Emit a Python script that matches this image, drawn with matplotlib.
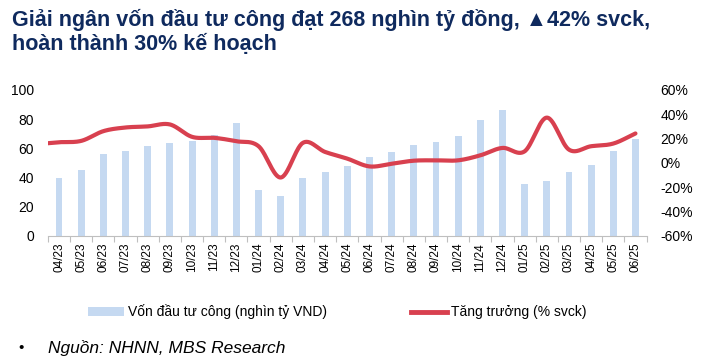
import numpy as np
import matplotlib
matplotlib.use("Agg")
import matplotlib.pyplot as plt
from matplotlib.patches import Patch
from matplotlib.lines import Line2D

plt.rcParams['font.family'] = ['Liberation Sans', 'DejaVu Sans']

categories = ["04/23", "05/23", "06/23", "07/23", "08/23", "09/23", "10/23", "11/23", "12/23",
              "01/24", "02/24", "03/24", "04/24", "05/24", "06/24", "07/24", "08/24", "09/24",
              "10/24", "11/24", "12/24", "01/25", "02/25", "03/25", "04/25", "05/25", "06/25"]
von_dau_tu = [39.5, 45, 56, 58.3, 61.3, 63.6, 65, 69, 77.3,
              31.1, 27, 39.8, 43.9, 48, 53.8, 57.7, 62, 64.5,
              68.4, 79.2, 86.3, 35.5, 37.8, 43.9, 48.5, 58.3, 66.6]
tang_truong = [17, 18.1, 26.1, 29.1, 30, 31.6, 21.4, 20.6, 17.8,
               13.7, -12, 16.5, 9, 3.5, -2.9, -0.7, 1.8, 2.1,
               2.1, 6.2, 12.3, 9.5, 37.2, 10.9, 13.7, 15.9, 24.2]
left_ticks = [0, 20, 40, 60, 80, 100]
right_ticks = [-60, -40, -20, 0, 20, 40, 60]

title = "Giải ngân vốn đầu tư công đạt 268 nghìn tỷ đồng, ▲42% svck,\nhoàn thành 30% kế hoạch"
bar_label = "Vốn đầu tư công (nghìn tỷ VND)"
line_label = "Tăng trưởng (% svck)"
source = "Nguồn: NHNN, MBS Research"

BAR_C = "#C5D9F1"
LINE_C = "#D8404F"
NAVY = "#0F2A5E"


def catmull_rom(x, y, n=30, lead=0.5):
    x = np.asarray(x, float)
    y = np.asarray(y, float)
    px = np.concatenate([[2 * x[0] - x[1]], x, [2 * x[-1] - x[-2]]])
    py = np.concatenate([[2 * y[0] - y[1]], y, [2 * y[-1] - y[-2]]])
    xs, ys = [], []
    t = np.linspace(0, 1, n, endpoint=False)
    for i in range(1, len(px) - 2):
        p0, p1, p2, p3 = py[i - 1], py[i], py[i + 1], py[i + 2]
        q0, q1, q2, q3 = px[i - 1], px[i], px[i + 1], px[i + 2]
        f = lambda a0, a1, a2, a3: 0.5 * ((2 * a1) + (-a0 + a2) * t +
                                          (2 * a0 - 5 * a1 + 4 * a2 - a3) * t ** 2 +
                                          (-a0 + 3 * a1 - 3 * a2 + a3) * t ** 3)
        xs.append(f(q0, q1, q2, q3))
        ys.append(f(p0, p1, p2, p3))
    xs.append([x[-1]])
    ys.append([y[-1]])
    sx = np.concatenate(xs)
    sy = np.concatenate(ys)
    # short lead-in from the axis edge, following the initial slope
    slope = (y[1] - y[0]) / (x[1] - x[0])
    sx = np.concatenate([[x[0] - lead], sx])
    sy = np.concatenate([[y[0] - slope * lead * 1.5], sy])
    return sx, sy


fig = plt.figure(figsize=(7.16, 3.64), dpi=100)
ax = fig.add_axes([0.067, 0.352, 0.836, 0.401])
n = len(categories)
xpos = np.arange(n)
ax.bar(xpos, von_dau_tu, width=0.31, color=BAR_C, zorder=2)
ax.set_xlim(-0.5, n - 0.5)
ax.set_ylim(0, 100)
ax.set_yticks(left_ticks)
ax.set_xticks(xpos)
ax.set_xticklabels(categories, rotation=90, fontsize=8.5)
ax.set_xticks(np.arange(-0.5, n, 1.0), minor=True)
ax.tick_params(axis='x', which='major', length=0, pad=5)
ax.tick_params(axis='x', which='minor', length=4, color="#BFBFBF", width=0.8)
ax.tick_params(axis='y', length=0, labelsize=10, pad=10)
for s in ['top', 'right', 'left']:
    ax.spines[s].set_visible(False)
ax.spines['bottom'].set_color("#BFBFBF")
ax.spines['bottom'].set_linewidth(0.8)

ax2 = ax.twinx()
sx, sy = catmull_rom(xpos, tang_truong)
ax2.plot(sx, sy, color=LINE_C, lw=3, solid_capstyle='round', zorder=3)
ax2.set_ylim(-60, 60)
ax2.set_yticks(right_ticks)
ax2.set_yticklabels([f"{v}%" for v in right_ticks])
ax2.tick_params(axis='y', length=0, labelsize=10, pad=10)
for s in ['top', 'right', 'left', 'bottom']:
    ax2.spines[s].set_visible(False)

fig.text(0.017, 0.975, title, fontsize=15.5, fontweight='bold', color=NAVY,
         va='top', ha='left', linespacing=1.15)

handles = [Patch(facecolor=BAR_C, edgecolor='none'),
           Line2D([0], [0], color=LINE_C, lw=3.5)]
fig.legend(handles, [bar_label, line_label], loc='center left',
           bbox_to_anchor=(0.123, 0.143), ncol=2, frameon=False, fontsize=10,
           handlelength=2.6, handletextpad=0.3, columnspacing=6.0,
           borderpad=0, borderaxespad=0)

fig.text(0.025, 0.044, "•", fontsize=11, color="black", va='center', ha='left')
fig.text(0.067, 0.044, source, fontsize=12.5, style='italic', color="black",
         va='center', ha='left')

fig.savefig("out.png", dpi=100)
